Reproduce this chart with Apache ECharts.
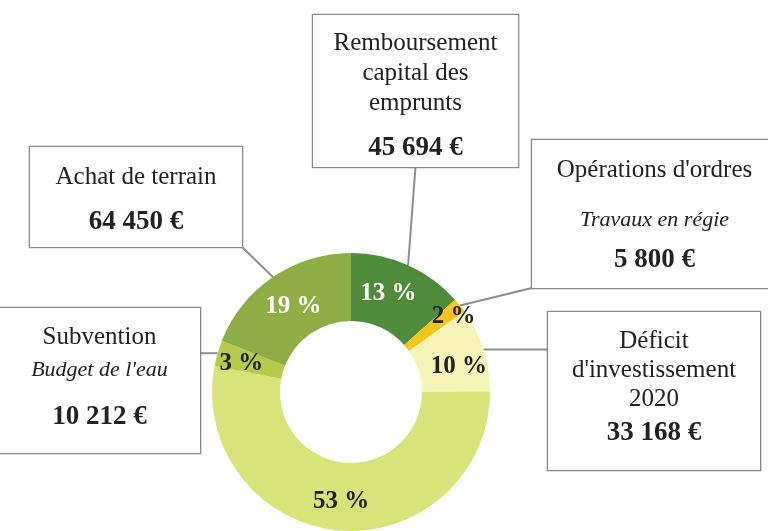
<!DOCTYPE html>
<html>
<head>
<meta charset="utf-8">
<script src="https://cdn.jsdelivr.net/npm/echarts@6/dist/echarts.min.js"></script>
<style>
  html, body { margin: 0; padding: 0; background: #fff; }
  #chart { width: 768px; height: 531px; }
</style>
</head>
<body>
<div id="chart"></div>
<script>
// slices, clockwise from 12 o'clock
var categories = ['Remboursement capital des emprunts', "Opérations d'ordres", "Déficit d'investissement 2020",
  'Autres dépenses', 'Subvention', 'Achat de terrain'];
var values = [45694, 5800, 33168, 180000, 10212, 64450];
var titleLines = [['Remboursement', 'capital des', 'emprunts'], ["Opérations d'ordres"],
  ['Déficit', "d'investissement", '2020'], null, ['Subvention'], ['Achat de terrain']];
var subtitles = [null, 'Travaux en régie', null, null, "Budget de l'eau", null];

var colors = ['#4f8b3b', '#f3c41c', '#f6f3b6', '#d8e37a', '#b6cb4b', '#8fad45'];
var pctColors = ['#ffffff', '#222222', '#222222', '#222222', '#222222', '#ffffff'];
var pctOffsets = [[-7, 0], [18, -8], [5, 8], [0, 2], [-6, 2], [3, 4]];

// annotation boxes: x, y, w, h / padTop, title lh, subtitle lh, value lh
var boxes = [[313, 15, 205, 152], [532, 140, 245, 148], [548, 312, 212, 158], null, [-1, 308, 201, 145], [30, 147, 212, 100]];
var boxText = [[13, 30, 0, 60], [0, 60, 40, 40], [15, 29, 0, 39], null, [11, 36, 30, 64], [15, 30, 0, 60]];
var anchors = ['bottom', 'bottomLeft', 'left', null, 'right', 'bottomRight'];

var serif = 'Liberation Serif';

function euro(v) {
  return String(v).replace(/\B(?=(\d{3})+(?!\d))/g, ' ') + ' €';
}

function boxLabel(i) {
  if (!boxes[i]) return { show: false };
  var b = boxes[i], t = boxText[i];
  var parts = titleLines[i].map(function (s) { return '{t|' + s + '}'; });
  if (subtitles[i]) parts.push('{s|' + subtitles[i] + '}');
  parts.push('{v|' + euro(values[i]) + '}');
  return {
    show: true,
    formatter: parts.join('\n'),
    width: b[2],
    height: b[3] - t[0],
    padding: [t[0], 0, 0, 0],
    backgroundColor: '#fff',
    borderColor: '#8a8a8a',
    borderWidth: 1.3,
    rich: {
      t: { fontFamily: serif, fontSize: 25, color: '#222', lineHeight: t[1], align: 'center' },
      s: { fontFamily: serif, fontSize: 22, fontStyle: 'italic', color: '#222', lineHeight: t[2], align: 'center' },
      v: { fontFamily: serif, fontSize: 27, fontWeight: 'bold', color: '#222', lineHeight: t[3], align: 'center' }
    }
  };
}

var sliceData = categories.map(function (c, i) {
  return {
    name: c, value: values[i],
    itemStyle: { color: colors[i] },
    label: { color: pctColors[i], offset: pctOffsets[i] }
  };
});

var boxData = categories.map(function (c, i) {
  return {
    name: c, value: values[i],
    label: boxLabel(i),
    labelLine: { show: !!boxes[i] }
  };
});

var chart = echarts.init(document.getElementById('chart'), null, { renderer: 'canvas' });
chart.setOption({
  animation: false,
  backgroundColor: '#fff',
  series: [
    {
      type: 'pie',
      center: [351, 392],
      radius: [71, 139],
      startAngle: 90,
      percentPrecision: 0,
      silent: true,
      label: {
        position: 'inside',
        formatter: '{d} %',
        fontFamily: serif,
        fontSize: 25,
        fontWeight: 'bold'
      },
      labelLine: { show: false },
      data: sliceData
    },
    {
      type: 'pie',
      center: [351, 392],
      radius: [71, 139],
      startAngle: 90,
      silent: true,
      avoidLabelOverlap: false,
      itemStyle: { color: 'rgba(0,0,0,0)' },
      label: { position: 'outside' },
      labelLine: { lineStyle: { color: '#8b8e98', width: 2 } },
      labelLayout: function (p) {
        var i = p.dataIndex, b = boxes[i];
        if (!b) return {};
        var a = p.labelLinePoints[0], end;
        if (anchors[i] === 'bottom') end = [b[0] + b[2] / 2, b[1] + b[3]];
        else if (anchors[i] === 'bottomLeft') end = [b[0], b[1] + b[3]];
        else if (anchors[i] === 'bottomRight') end = [b[0] + b[2], b[1] + b[3]];
        else if (anchors[i] === 'left') end = [b[0], a[1]];
        else end = [b[0] + b[2], a[1]];
        var mid = [(a[0] + end[0]) / 2, (a[1] + end[1]) / 2];
        return {
          x: b[0], y: b[1], align: 'left', verticalAlign: 'top',
          labelLinePoints: [a, mid, end]
        };
      },
      data: boxData
    }
  ]
});
</script>
</body>
</html>
